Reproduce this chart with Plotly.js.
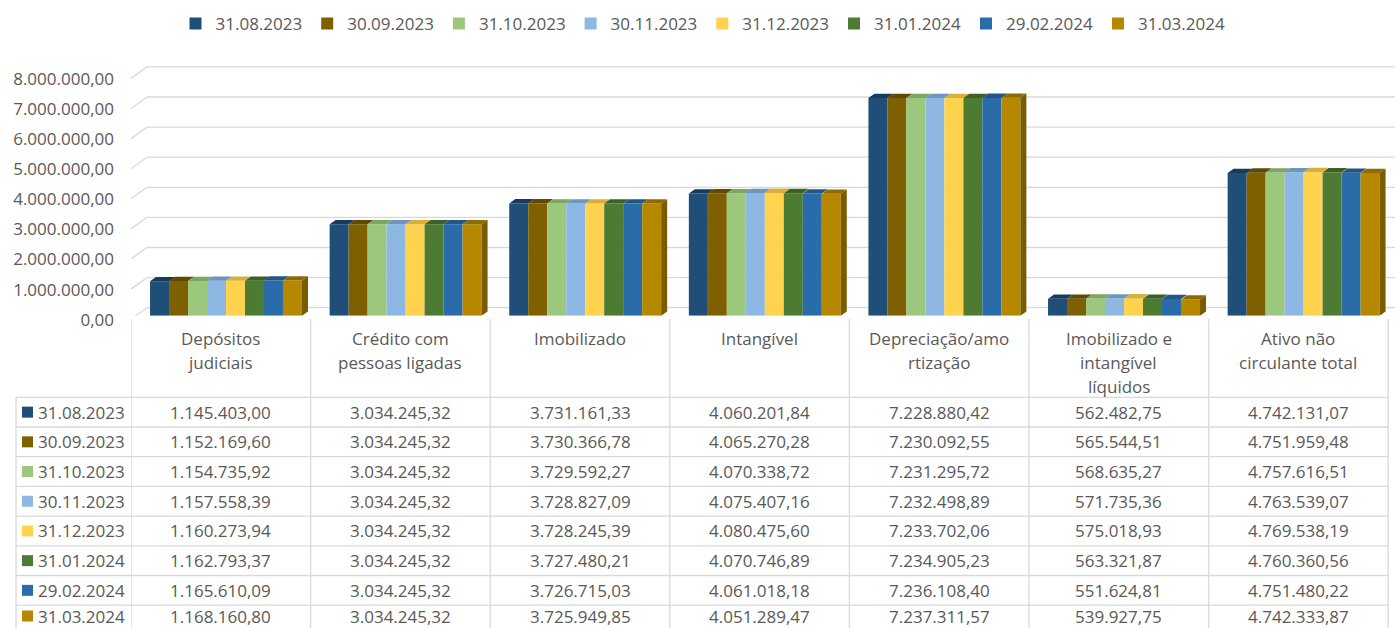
<!DOCTYPE html>
<html>
<head>
<meta charset="utf-8">
<script src="https://cdn.plot.ly/plotly-3.0.1.min.js"></script>
<style>html,body{margin:0;padding:0;background:#fff;}#chart{width:1395px;height:628px;}</style>
</head>
<body>
<div id="chart"></div>
<script>
// ---------- DATA ----------
const categories = [
  "Depósitos<br>judiciais",
  "Crédito com<br>pessoas ligadas",
  "Imobilizado",
  "Intangível",
  "Depreciação/amo<br>rtização",
  "Imobilizado e<br>intangível<br>líquidos",
  "Ativo não<br>circulante total"
];
const seriesNames = ["31.08.2023","30.09.2023","31.10.2023","30.11.2023","31.12.2023","31.01.2024","29.02.2024","31.03.2024"];
const s_31_08_2023 = [1145403.00, 3034245.32, 3731161.33, 4060201.84, 7228880.42, 562482.75, 4742131.07];
const s_30_09_2023 = [1152169.60, 3034245.32, 3730366.78, 4065270.28, 7230092.55, 565544.51, 4751959.48];
const s_31_10_2023 = [1154735.92, 3034245.32, 3729592.27, 4070338.72, 7231295.72, 568635.27, 4757616.51];
const s_30_11_2023 = [1157558.39, 3034245.32, 3728827.09, 4075407.16, 7232498.89, 571735.36, 4763539.07];
const s_31_12_2023 = [1160273.94, 3034245.32, 3728245.39, 4080475.60, 7233702.06, 575018.93, 4769538.19];
const s_31_01_2024 = [1162793.37, 3034245.32, 3727480.21, 4070746.89, 7234905.23, 563321.87, 4760360.56];
const s_29_02_2024 = [1165610.09, 3034245.32, 3726715.03, 4061018.18, 7236108.40, 551624.81, 4751480.22];
const s_31_03_2024 = [1168160.80, 3034245.32, 3725949.85, 4051289.47, 7237311.57, 539927.75, 4742333.87];
const seriesValues = [s_31_08_2023, s_30_09_2023, s_31_10_2023, s_30_11_2023, s_31_12_2023, s_31_01_2024, s_29_02_2024, s_31_03_2024];
const yTickVals = [0, 1000000, 2000000, 3000000, 4000000, 5000000, 6000000, 7000000, 8000000];

// ---------- STYLE ----------
const frontColors = ["#1F4E79","#7F6000","#9BC87D","#8DB8E3","#FFD34E","#4E7B32","#2A6CAA","#B58800"];
const topColors   = ["#173B5D","#614900","#7DA563","#6E95BE","#D9AE3A","#3C6026","#215685","#8E6B00"];
const sideColor = "#7A5C00";
const textColor = "#595959";
const gridColor = "#D9D9D9";
const FONT = "Open Sans, Noto Sans, sans-serif";
const FS = 17;

const W = 1395, H = 628;
const X0PX = 131, UNITPX = 179.6, XR0 = -0.529;
const XR1 = XR0 + (W - X0PX) / UNITPX;
const BASEPX = 315.7, TOPPX = 60, PXPERVAL = 30.1e-6;
const YMAX = (BASEPX - TOPPX) / PXPERVAL;
const BACKSHIFT = 8 / PXPERVAL;           // back wall raised 8px
const BARGAP = 0.154;
const nS = seriesNames.length;
const barW = (1 - BARGAP) / nS;
const DX = 6 / UNITPX, DY = 4.3 / PXPERVAL;

const px2x = p => p / W;
const py2y = p => (H - p) / H;

function fmt(n) {
  const s = n.toFixed(2);
  let [i, d] = s.split(".");
  i = i.replace(/\B(?=(\d{3})+(?!\d))/g, ".");
  return i + "," + d;
}

const xIdx = categories.map((_, i) => i);
const traces = [];
seriesNames.forEach((name, j) => {
  traces.push({
    type: "bar", x: xIdx, y: seriesValues[j], name: name,
    marker: {color: frontColors[j], line: {width: 0}},
    hoverinfo: "none"
  });
});
// 3D top faces
seriesNames.forEach((name, j) => {
  const xs = [], ys = [];
  seriesValues[j].forEach((v, c) => {
    const x0 = c - (1 - BARGAP) / 2 + j * barW, x1 = x0 + barW;
    xs.push(x0, x1, x1 + DX, x0 + DX, x0, null);
    ys.push(v, v, v + DY, v + DY, v, null);
  });
  traces.push({type: "scatter", mode: "lines", x: xs, y: ys, fill: "toself",
    fillcolor: topColors[j], line: {width: 0}, showlegend: false, hoverinfo: "skip"});
});
// side face of last bar
{
  const j = nS - 1, xs = [], ys = [];
  seriesValues[j].forEach((v, c) => {
    const x1 = c - (1 - BARGAP) / 2 + (j + 1) * barW;
    xs.push(x1, x1 + DX, x1 + DX, x1, x1, null);
    ys.push(0, DY, v + DY, v, 0, null);
  });
  traces.push({type: "scatter", mode: "lines", x: xs, y: ys, fill: "toself",
    fillcolor: sideColor, line: {width: 0}, showlegend: false, hoverinfo: "skip"});
}

const shapes = [];
const annotations = [];
// back wall gridlines + diagonals
yTickVals.forEach(v => {
  shapes.push({type: "line", xref: "paper", yref: "y2", x0: px2x(147), x1: 1, y0: v, y1: v,
    line: {color: gridColor, width: 1.3}, layer: "below"});
  shapes.push({type: "line", xref: "paper", yref: "y2", x0: px2x(131), x1: px2x(147),
    y0: v - 11.5 / PXPERVAL, y1: v, line: {color: gridColor, width: 1.3}, layer: "below"});
});

// ---------- DATA TABLE ----------
const HEADTOP = 319, HEADBOT = 397.3, ROWH = 29.7;
const rowLines = [];
for (let r = 0; r <= nS; r++) rowLines.push(HEADBOT + r * ROWH);
const TABLE_LEFT = 16;
rowLines.forEach(py => {
  shapes.push({type: "line", xref: "paper", yref: "paper", x0: px2x(TABLE_LEFT), x1: px2x(X0PX + 7 * UNITPX),
    y0: py2y(py), y1: py2y(py), line: {color: gridColor, width: 1.3}});
});
for (let k = 0; k <= categories.length; k++) {
  const xb = k + XR0;
  shapes.push({type: "line", xref: "x", yref: "paper", x0: xb, x1: xb,
    y0: py2y(HEADTOP), y1: py2y(H + 10), line: {color: gridColor, width: 1.3}});
}
shapes.push({type: "line", xref: "paper", yref: "paper", x0: px2x(TABLE_LEFT), x1: px2x(TABLE_LEFT),
  y0: py2y(HEADBOT), y1: py2y(H + 10), line: {color: gridColor, width: 1.3}});

categories.forEach((cat, c) => {
  const lines = cat.split("<br>");
  lines.forEach((ln, li) => {
    annotations.push({xref: "x", yref: "paper", x: c + XR0 + 0.5, y: py2y(338 + li * 24),
      text: ln, showarrow: false, xanchor: "center", yanchor: "middle",
      font: {family: FONT, size: FS, color: textColor}});
  });
});
seriesNames.forEach((name, j) => {
  const cy = rowLines[j] + ROWH / 2;
  const ty = Math.min(cy, H - 12);   // keep last row text inside the picture
  shapes.push({type: "rect", xref: "paper", yref: "paper", x0: px2x(22), x1: px2x(33),
    y0: py2y(ty - 5.5), y1: py2y(ty + 5.5), fillcolor: frontColors[j], line: {width: 0}});
  annotations.push({xref: "paper", yref: "paper", x: px2x(36), y: py2y(ty), text: name,
    showarrow: false, xanchor: "left", yanchor: "middle",
    font: {family: FONT, size: FS, color: textColor}});
  seriesValues[j].forEach((v, c) => {
    annotations.push({xref: "x", yref: "paper", x: c + XR0 + 0.5, y: py2y(ty), text: fmt(v),
      showarrow: false, xanchor: "center", yanchor: "middle",
      font: {family: FONT, size: FS, color: textColor}});
  });
});

const layout = {
  width: W, height: H,
  margin: {l: 0, r: 0, t: 0, b: 0, pad: 0},
  paper_bgcolor: "#ffffff", plot_bgcolor: "rgba(0,0,0,0)",
  separators: ",.",
  barmode: "group", bargap: BARGAP, bargroupgap: 0,
  font: {family: FONT, size: FS, color: textColor},
  showlegend: true,
  legend: {orientation: "h", x: px2x(703), xanchor: "center", y: py2y(24), yanchor: "middle",
    font: {family: FONT, size: FS, color: textColor}, bgcolor: "rgba(0,0,0,0)"},
  xaxis: {domain: [px2x(X0PX), 1], range: [XR0, XR1], showgrid: false, zeroline: false,
    showline: false, showticklabels: false, ticks: "", fixedrange: true},
  yaxis: {domain: [py2y(BASEPX), py2y(TOPPX)], range: [0, YMAX], tickvals: yTickVals,
    tickformat: ",.2f", showgrid: false, zeroline: false, showline: false, ticks: "",
    ticklabelstandoff: 16, ticklabelshift: 4,
    tickfont: {family: FONT, size: FS, color: textColor}, fixedrange: true},
  yaxis2: {overlaying: "y", domain: [py2y(BASEPX), py2y(TOPPX)], range: [-BACKSHIFT, YMAX - BACKSHIFT],
    visible: false, showgrid: false, zeroline: false, fixedrange: true},
  shapes: shapes,
  annotations: annotations
};

Plotly.newPlot("chart", traces, layout, {displayModeBar: false, staticPlot: true});
</script>
</body>
</html>
